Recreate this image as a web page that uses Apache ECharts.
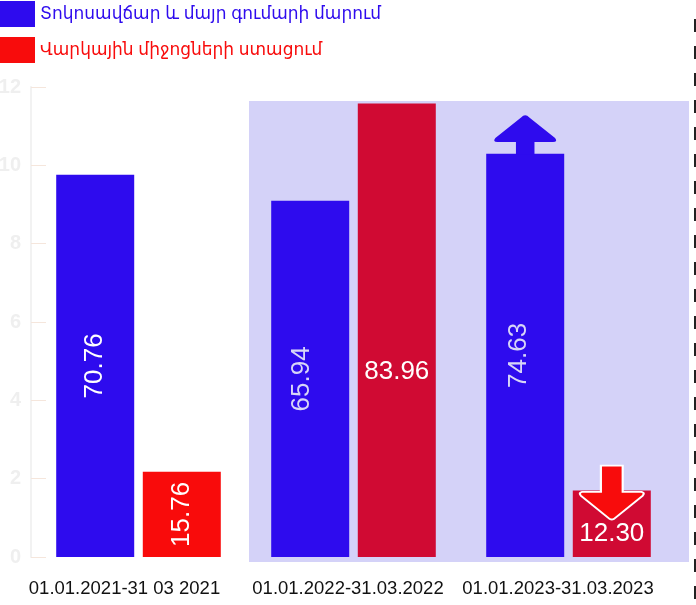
<!DOCTYPE html>
<html>
<head>
<meta charset="utf-8">
<script src="https://cdn.jsdelivr.net/npm/echarts@6/dist/echarts.min.js"></script>
<style>
html, body { margin: 0; padding: 0; background: #fff; }
#chart { width: 696px; height: 605px; }
</style>
</head>
<body>
<div id="chart"></div>
<script>
var categories = ['01.01.2021-31 03 2021', '01.01.2022-31.03.2022', '01.01.2023-31.03.2023'];
var seriesNames = ['Տոկոսավճար և մայր գումարի մարում', 'Վարկային միջոցների ստացում'];
var repayValues = [70.76, 65.94, 74.63];
var receiveValues = [15.76, 83.96, 12.30];
var axisTicks = [0, 2, 4, 6, 8, 10, 12];

var font = 'Liberation Sans, Arial, DejaVu Sans, sans-serif';
var blue = '#2e0bee';
var red = '#f80c0c';
var crimson = '#d00a33';

var chart = echarts.init(document.getElementById('chart'));

// label look per bar (rotated on the tall ones, flat on two of the red ones)
var repayLabels = [
    { rotate: 90, color: '#ffffff' },
    { rotate: 90, color: '#d7d5f7', offset: [0, -8] },
    { rotate: 90, color: '#d7d5f7', offset: [0, -6] }
];
var receiveLabels = [
    { rotate: 90, color: '#ffffff' },
    { rotate: 0, color: '#ffffff', offset: [0, 42] },
    { rotate: 0, color: '#ffffff', offset: [0, 10] }
];
var receiveColors = ['#f90b0b', crimson, crimson];

var repayData = repayValues.map(function (v, i) {
    return { value: v, label: repayLabels[i] };
});
var receiveData = receiveValues.map(function (v, i) {
    return { value: v, label: receiveLabels[i], itemStyle: { color: receiveColors[i] } };
});

function twoDigits(p) {
    return p.value.toFixed(2);
}

// the date labels sit a little left of their bar pairs
var catRich = {
    c0: { fontSize: 18.5, color: '#111', fontFamily: font, padding: [0, 28, 0, 0] },
    c1: { fontSize: 18.5, color: '#111', fontFamily: font, padding: [0, 11, 0, 0] },
    c2: { fontSize: 18.5, color: '#111', fontFamily: font, padding: [0, 21, 0, 0] }
};

var option = {
    backgroundColor: '#ffffff',
    textStyle: { fontFamily: font },
    graphic: [{
        type: 'rect',
        z: 0,
        silent: true,
        shape: { x: 249, y: 101, width: 440, height: 461 },
        style: { fill: '#d4d2f8' }
    }, {
        type: 'line',
        z: 0,
        silent: true,
        shape: { x1: 695, y1: 19, x2: 695, y2: 605 },
        style: { stroke: '#222', lineWidth: 2, lineDash: [13, 14] }
    }],
    legend: {
        data: [
            { name: seriesNames[0], textStyle: { color: blue } },
            { name: seriesNames[1], textStyle: { color: red } }
        ],
        orient: 'vertical',
        left: 0,
        top: 1,
        padding: 0,
        icon: 'rect',
        itemWidth: 35,
        itemHeight: 26,
        itemGap: 10,
        textStyle: { fontSize: 17, fontFamily: font }
    },
    grid: {
        left: 31,
        right: 20,
        top: 87,
        bottom: 48,
        containLabel: false,
        outerBoundsMode: 'none'
    },
    xAxis: [{
        type: 'category',
        data: categories,
        axisLine: { show: false },
        axisTick: { show: false },
        axisLabel: {
            margin: 22,
            interval: 0,
            formatter: function (value, index) {
                return '{c' + index + '|' + value + '}';
            },
            rich: catRich
        }
    }],
    yAxis: [{
        type: 'value',
        min: axisTicks[0],
        max: axisTicks[axisTicks.length - 1],
        interval: 2,
        axisLine: { show: true, lineStyle: { color: '#f2f2f2', width: 2 } },
        axisTick: { show: true, inside: true, length: 15, lineStyle: { color: '#f5e6dc' } },
        splitLine: { show: false },
        axisLabel: { color: '#efefef', fontSize: 20, fontWeight: 'bold', margin: 10 }
    }, {
        type: 'value',
        min: 0,
        max: 87,
        show: false,
        splitLine: { show: false }
    }],
    series: [{
        name: seriesNames[0],
        type: 'bar',
        yAxisIndex: 1,
        barWidth: 78,
        barGap: '11%',
        itemStyle: { color: blue },
        label: {
            show: true,
            position: 'inside',
            fontSize: 26,
            fontFamily: font,
            formatter: twoDigits
        },
        data: repayData,
        markPoint: {
            symbol: 'path://M31,0 Q33,0 35,2 L60,22 Q63,26 58,26 L40,26 L40,38 L22,38 L22,26 L4,26 Q-1,26 2,22 L27,2 Q29,0 31,0 Z',
            symbolSize: [62, 39],
            symbolOffset: [0, -19],
            label: { show: false },
            itemStyle: { color: blue },
            data: [{ coord: [categories[2], repayValues[2]] }]
        }
    }, {
        name: seriesNames[1],
        type: 'bar',
        yAxisIndex: 1,
        barWidth: 78,
        itemStyle: { color: red },
        label: {
            show: true,
            position: 'inside',
            fontSize: 26,
            fontFamily: font,
            formatter: twoDigits
        },
        data: receiveData,
        markPoint: {
            symbol: 'path://M21,0 L43,0 L43,26 L62,26 Q66,27 63,30 L34,53 Q32,54 30,53 L1,30 Q-2,27 2,26 L21,26 Z',
            symbolSize: [64, 54],
            symbolOffset: [0, 2],
            label: { show: false },
            itemStyle: { color: red, borderColor: '#ffffff', borderWidth: 2 },
            data: [{ coord: [categories[2], receiveValues[2]] }]
        }
    }]
};

chart.setOption(option);
</script>
</body>
</html>
